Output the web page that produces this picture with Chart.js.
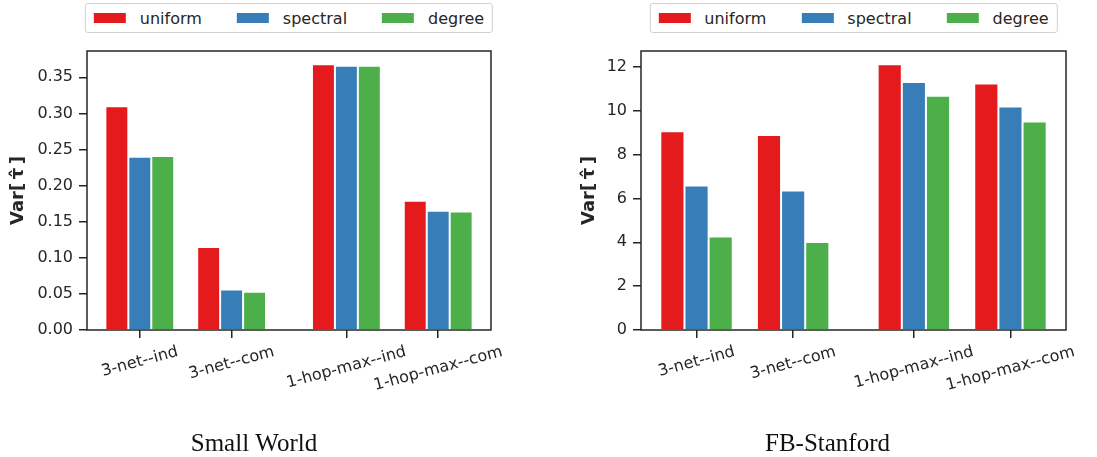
<!DOCTYPE html>
<html>
<head>
<meta charset="utf-8">
<script src="https://cdn.jsdelivr.net/npm/chart.js@4.4.0/dist/chart.umd.min.js"></script>
<style>
  body { margin: 0; background: #fff; font-family: "DejaVu Sans", sans-serif; }
  #wrap { position: relative; width: 1097px; height: 457px; overflow: hidden; }
  .panel { position: absolute; top: 0; }
  .legend {
    position: absolute; top: 3px; height: 30px; box-sizing: border-box;
    border: 1px solid #d0d0d0; border-radius: 3px; background: #fff;
    display: flex; align-items: center; justify-content: center;
    padding: 0 8px; white-space: nowrap; font-size: 16px; color: #262626;
    transform: translateX(-50%);
  }
  .legend .item { display: flex; align-items: center; }
  .legend .item + .item { margin-left: 35px; }
  .legend .swatch { width: 32px; height: 10px; margin-right: 14px; }
</style>
</head>
<body>
<div id="wrap">
  <canvas id="chart-sw" class="panel" width="548" height="457" style="left:0"></canvas>
  <canvas id="chart-fb" class="panel" width="549" height="457" style="left:548px"></canvas>
</div>
<script>
const methods = ["uniform", "spectral", "degree"];
const methodColors = ["#e41a1c", "#377eb8", "#4daf4a"];
const categories = ["3-net--ind", "3-net--com", "1-hop-max--ind", "1-hop-max--com"];
// x position of each group (there is a wider gap between the 2nd and 3rd group)
const groupPos = [0, 1, 2.25, 3.25];

// Small World
const swUniform = [0.310, 0.115, 0.368, 0.179];
const swSpectral = [0.240, 0.056, 0.366, 0.165];
const swDegree = [0.241, 0.053, 0.366, 0.164];
const swTicks = [0, 0.05, 0.1, 0.15, 0.2, 0.25, 0.3, 0.35];

// FB-Stanford
const fbUniform = [9.07, 8.90, 12.12, 11.24];
const fbSpectral = [6.59, 6.36, 11.31, 10.19];
const fbDegree = [4.27, 4.01, 10.69, 9.51];
const fbTicks = [0, 2, 4, 6, 8, 10, 12];

Chart.defaults.font.family = "'DejaVu Sans', sans-serif";
Chart.defaults.font.size = 16;
Chart.defaults.color = "#262626";

// full box around the plot area
const axesBox = {
  id: "axesBox",
  afterDatasetsDraw(chart) {
    const { ctx, chartArea: a } = chart;
    ctx.save();
    ctx.strokeStyle = "#262626";
    ctx.lineWidth = 1.5;
    ctx.strokeRect(a.left, a.top, a.right - a.left, a.bottom - a.top);
    ctx.restore();
  }
};

// x labels rotated 15deg around their centre, like matplotlib
const rotatedLabels = {
  id: "rotatedLabels",
  afterDraw(chart) {
    const { ctx, chartArea } = chart;
    const xs = chart.scales.x;
    const ang = 15 * Math.PI / 180;
    ctx.save();
    ctx.font = "16px 'DejaVu Sans'";
    ctx.fillStyle = "#262626";
    ctx.textAlign = "center";
    ctx.textBaseline = "middle";
    categories.forEach((label, i) => {
      const w = ctx.measureText(label).width;
      const x = xs.getPixelForValue(groupPos[i]);
      const y = chartArea.bottom + 14 + (w * Math.sin(ang) + 16 * Math.cos(ang)) / 2;
      ctx.save();
      ctx.translate(x, y);
      ctx.rotate(-ang);
      ctx.fillText(label, 0, 0);
      ctx.restore();
    });
    ctx.restore();
  }
};

function makeChart(id, title, series, yTicks, fmt, pad, yWidth, yTitlePad) {
  const ymax = Math.max(...series.flat()) * 1.05;
  const chart = new Chart(document.getElementById(id), {
    type: "bar",
    data: {
      datasets: series.map((vals, k) => ({
        label: methods[k],
        data: groupPos.map((x, i) => ({ x: x, y: vals[i] })),
        backgroundColor: methodColors[k],
        borderColor: "#ffffff",
        borderWidth: 1,
        categoryPercentage: 0.75,
        barPercentage: 1.0
      }))
    },
    options: {
      responsive: false,
      animation: false,
      events: [],
      layout: { padding: pad },
      plugins: {
        legend: { display: false },
        tooltip: { enabled: false },
        title: {
          display: true,
          text: title,
          position: "bottom",
          color: "#111",
          font: { family: "'Liberation Serif', serif", size: 25, weight: "normal", lineHeight: 1 },
          padding: { top: 0, bottom: 0 }
        }
      },
      scales: {
        x: {
          type: "linear",
          min: -0.575,
          max: 3.825,
          offset: false,
          afterBuildTicks: (s) => { s.ticks = groupPos.map(v => ({ value: v })); },
          afterFit: (s) => { s.height = 102; },
          ticks: { display: false },
          grid: { drawOnChartArea: false, drawTicks: true, tickLength: 8, color: "#262626", lineWidth: 1.5, offset: false },
          border: { display: false }
        },
        y: {
          min: 0,
          max: ymax,
          afterBuildTicks: (s) => { s.ticks = yTicks.map(v => ({ value: v })); },
          afterFit: (s) => { s.width = yWidth; },
          ticks: { padding: 6, callback: fmt },
          grid: { drawOnChartArea: false, drawTicks: true, tickLength: 8, color: "#262626", lineWidth: 1.5 },
          border: { display: false },
          title: {
            display: true,
            text: "Var[\u2009\u03C4\u0302\u2009]",
            font: { size: 18, weight: "bold", lineHeight: 1 },
            padding: { top: yTitlePad, bottom: 0 }
          }
        }
      }
    },
    plugins: [axesBox, rotatedLabels]
  });
  return chart;
}

function addLegend(chart, canvasLeft) {
  const a = chart.chartArea;
  const box = document.createElement("div");
  box.className = "legend";
  box.style.left = (canvasLeft + (a.left + a.right) / 2) + "px";
  chart.data.datasets.forEach((ds) => {
    const item = document.createElement("div");
    item.className = "item";
    const sw = document.createElement("span");
    sw.className = "swatch";
    sw.style.background = ds.backgroundColor;
    const txt = document.createElement("span");
    txt.textContent = ds.label;
    item.appendChild(sw);
    item.appendChild(txt);
    box.appendChild(item);
  });
  document.getElementById("wrap").appendChild(box);
}

const swChart = makeChart("chart-sw", "Small World",
  [swUniform, swSpectral, swDegree], swTicks, (v) => v.toFixed(2),
  { left: 17, right: 57, top: 51, bottom: 0 }, 70, -8);
addLegend(swChart, 0);

const fbChart = makeChart("chart-fb", "FB-Stanford",
  [fbUniform, fbSpectral, fbDegree], fbTicks, (v) => String(v),
  { left: 41, right: 31, top: 51, bottom: 0 }, 52, -9);
addLegend(fbChart, 548);
</script>
</body>
</html>
